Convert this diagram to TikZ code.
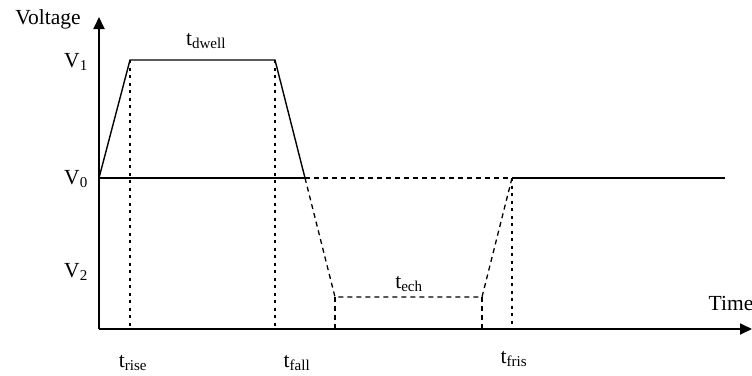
\documentclass[tikz,border=0pt]{standalone}
\usepackage{fontspec}
\setmainfont{Liberation Serif}
\usetikzlibrary{arrows.meta}
\begin{document}
\begin{tikzpicture}[x=1pt,y=-1pt,
  lbl/.style={inner sep=0pt,font=\fontsize{21.5}{23}\selectfont},
  axis/.style={line width=1.8pt,-{Triangle[length=12pt,width=11pt]}},
  sig/.style={line width=1.4pt},
  dsh/.style={line width=1.3pt,dash pattern=on 5pt off 4pt},
  dtt/.style={line width=1.5pt,dash pattern=on 3pt off 4.5pt}]
\useasboundingbox (0,0) rectangle (752,375);
% coordinates
\coordinate (O) at (99,329);
\coordinate (ytop) at (99,17);
\coordinate (xend) at (752,329);
\coordinate (s0) at (99,178);
\coordinate (r1) at (130,60);
\coordinate (f1) at (275,60);
\coordinate (f0) at (305,178);
\coordinate (l1) at (335,297);
\coordinate (l2) at (482,297);
\coordinate (e0) at (512,178);
\coordinate (eend) at (725,178);
\coordinate (b1) at (130,329);
\coordinate (b2) at (275,329);
\coordinate (b3) at (335,329);
\coordinate (b4) at (482,329);
\coordinate (b5) at (512,329);
% dotted verticals
\draw[dtt] (r1) -- (b1);
\draw[dtt] (f1) -- (b2);
\draw[dtt] (e0) -- (b5);
\draw[dsh] (l1) -- (b3);
\draw[dsh] (l2) -- (b4);
% dashed path
\draw[dsh] (f0) -- (l1) -- (l2) -- (e0);
\draw[dsh] (f0) -- (e0);
% signal
\draw[sig] (s0) -- (r1) -- (f1) -- (f0);
\draw[sig] (s0) -- (f0);
\draw[sig] (e0) -- (eend);
% axes
\draw[axis] (O) -- (ytop);
\draw[axis] (O) -- (xend);
% labels
\node[lbl] (vlt) at (48,19) {Voltage};
\node[lbl] (v1) at (76,62) {V\textsubscript{1}};
\node[lbl] (v0) at (76,179) {V\textsubscript{0}};
\node[lbl] (v2) at (76,272) {V\textsubscript{2}};
\node[lbl] (tdw) at (206,41) {t\textsubscript{dwell}};
\node[lbl] (tec) at (409,284) {t\textsubscript{ech}};
\node[lbl] (tim) at (731,303) {Time};
\node[lbl] (tri) at (133,363) {t\textsubscript{rise}};
\node[lbl] (tfa) at (297,363) {t\textsubscript{fall}};
\node[lbl] (tfr) at (514,359) {t\textsubscript{fris}};
\end{tikzpicture}
\end{document}
